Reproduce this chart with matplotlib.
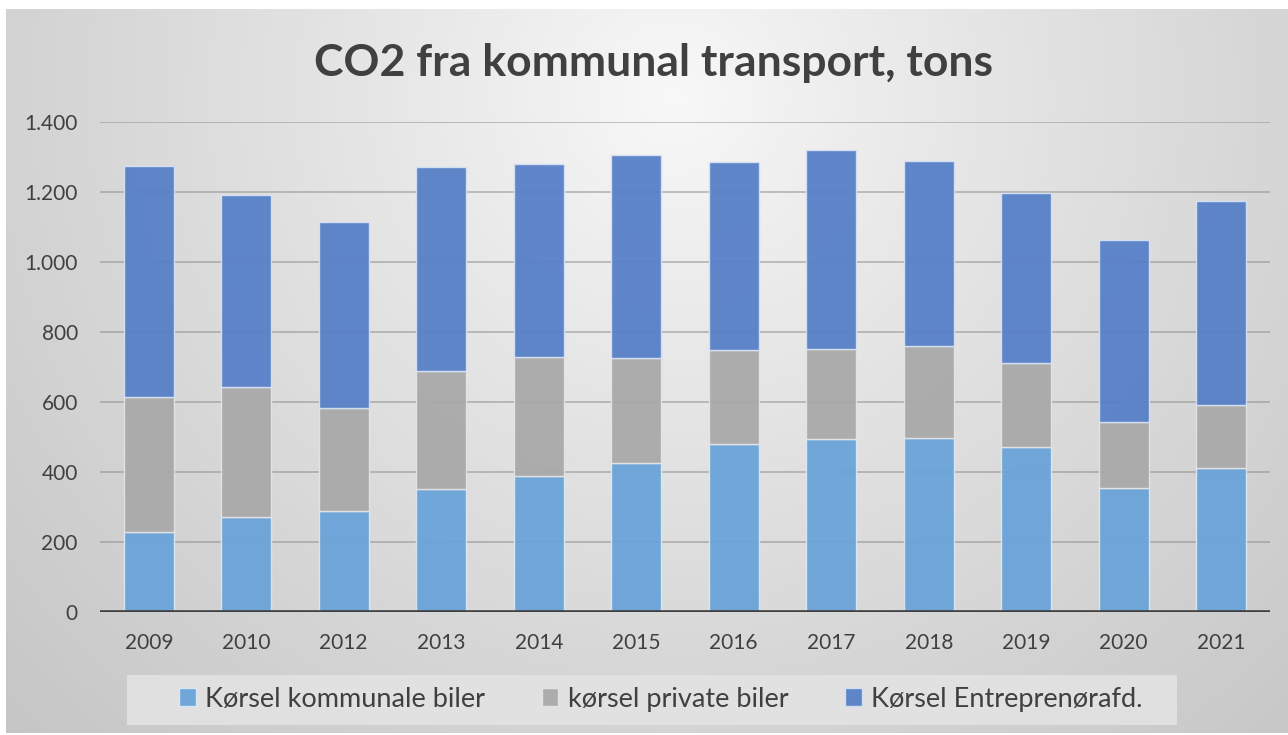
import numpy as np
import matplotlib
matplotlib.use("Agg")
import matplotlib.pyplot as plt
from matplotlib.patches import Rectangle

years = ["2009", "2010", "2012", "2013", "2014", "2015", "2016", "2017", "2018", "2019", "2020", "2021"]
kommunale = [229, 271, 289, 351, 389, 426, 480, 494, 497, 471, 354, 411]
private = [385, 372, 294, 338, 340, 300, 269, 257, 263, 240, 189, 180]
entreprenor = [660, 548, 531, 582, 551, 580, 537, 569, 529, 486, 520, 583]
series_names = ["Kørsel kommunale biler", "kørsel private biler", "Kørsel Entreprenørafd."]
yticks = [0, 200, 400, 600, 800, 1000, 1200, 1400]
ytick_labels = ["0", "200", "400", "600", "800", "1.000", "1.200", "1.400"]

plt.rcParams['font.family'] = ['Lato', 'DejaVu Sans']

W, H = 1288, 735
fig = plt.figure(figsize=(W / 100, H / 100), dpi=100)
fig.patch.set_facecolor('white')

# background radial gradient
bg = fig.add_axes([6 / W, 2 / H, 1 - 6 / W, 1 - 11 / H])
bg.set_axis_off()
ny, nx = 300, 520
yy, xx = np.mgrid[0:ny, 0:nx]
cx, cy = 0.52 * nx, 0.12 * ny
d = np.sqrt(((xx - cx) / nx) ** 2 + ((yy - cy) / ny * (H / W)) ** 2)
d = d / d.max()
val = 0.975 - 0.2 * np.clip(d, 0, 1) ** 0.9
img = np.dstack([val, val, val])
bg.imshow(img, aspect='auto', extent=[0, 1, 0, 1], origin='upper', interpolation='bilinear')
bg.set_xlim(0, 1)
bg.set_ylim(0, 1)

ax = fig.add_axes([100 / W, 1 - 612 / H, 1170 / W, 490 / H])
ax.patch.set_alpha(0)
x = np.arange(len(years))
c1, c2, c3 = '#6aa3d8', '#a9a9a9', '#5880c8'
k = np.array(kommunale)
p = np.array(private)
e = np.array(entreprenor)
bw = 0.51
ax.bar(x, k, bw, color=c1, edgecolor='#dce8f4', linewidth=1.0, alpha=0.95, zorder=2, label=series_names[0])
ax.bar(x, p, bw, bottom=k, color=c2, edgecolor='#e4e4e4', linewidth=1.0, alpha=0.95, zorder=2, label=series_names[1])
ax.bar(x, e, bw, bottom=k + p, color=c3, edgecolor='#d6e1f3', linewidth=1.0, alpha=0.95, zorder=2, label=series_names[2])

ax.set_xlim(-0.5, len(years) - 0.5)
ax.set_ylim(0, 1400)
ax.set_yticks(yticks)
ax.set_yticklabels(ytick_labels)
ax.set_xticks(x)
ax.set_xticklabels(years)
for yv in yticks[1:]:
    ax.axhline(yv, color='#8c8c8c', linewidth=1.3, alpha=0.55, zorder=1)
ax.axhline(0, color='#404040', linewidth=2.6, zorder=3)
for s in ax.spines.values():
    s.set_visible(False)
ax.tick_params(axis='both', length=0, labelsize=15, colors='#404040')
ax.tick_params(axis='y', pad=16)
ax.tick_params(axis='x', pad=15)

fig.text(653 / W, 1 - 63 / H, "CO2 fra kommunal transport, tons", ha='center', va='center',
         fontsize=32, fontweight='bold', color='#404040')

# legend background box
fig.patches.append(Rectangle((127 / W, 1 - 725 / H), 1050 / W, 50 / H, transform=fig.transFigure,
                             facecolor='#e4e4e4', edgecolor='none', alpha=0.85, zorder=1))
handles, labels = ax.get_legend_handles_labels()
leg = fig.legend(handles, labels, loc='center', bbox_to_anchor=(661 / W, 1 - 699 / H), ncol=3,
                 frameon=False, fontsize=19.5, handlelength=0.6, handleheight=0.6,
                 handletextpad=0.35, columnspacing=2.1, labelcolor='#404040')

fig.savefig('out.png', dpi=100, facecolor='white')
